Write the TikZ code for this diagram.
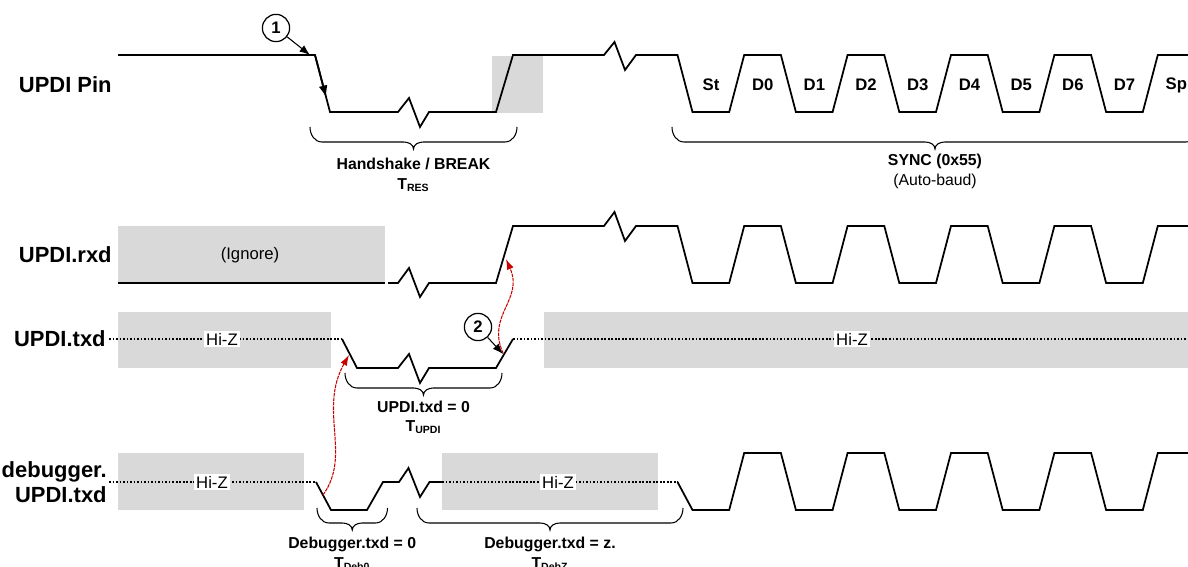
\documentclass[tikz,border=0pt]{standalone}
\usepackage{fontspec}
\setmainfont{Liberation Sans}
\usetikzlibrary{arrows.meta,positioning,calc}
\definecolor{shadegray}{RGB}{217,217,217}
\definecolor{causered}{RGB}{200,0,0}
\tikzset{
  sig/.style      = {line width=1pt,line join=miter},
  hiz/.style      = {line width=1pt,densely dotted},
  shade/.style    = {fill=shadegray},
  rowlabel/.style = {anchor=east,align=right,inner sep=0pt,
                     font=\bfseries\fontsize{12.5}{14}\selectfont},
  bitlabel/.style = {font=\bfseries\fontsize{9.5}{11}\selectfont},
  note/.style     = {font=\fontsize{9.5}{11}\selectfont},
  hizlabel/.style = {note,fill=white,inner sep=1pt},
  brlabel/.style  = {align=center,inner sep=0pt,
                     font=\bfseries\fontsize{9}{11.3}\selectfont},
  brc/.style      = {line width=0.6pt},
  callout/.style  = {circle,draw,line width=0.7pt,minimum size=15.5pt,inner sep=0pt,
                     fill=white,font=\bfseries\fontsize{9.5}{10}\selectfont},
  pointer/.style  = {-{Latex[length=6pt,width=4.5pt]},line width=0.6pt},
  cause/.style    = {-{Latex[length=6pt,width=4pt]},causered,line width=0.6pt,
                     dash pattern=on 2pt off 0.5pt},
}
\newcommand{\timebrace}[4]{%
  \pgfmathsetmacro{\bxm}{(#2+#3)/2}
  \draw[brc] (#2,#4) to[out=-90,in=180] (#2+12,#4+15) -- (\bxm-10,#4+15)
    to[out=0,in=90] (\bxm,#4+22) to[out=90,in=180] (\bxm+10,#4+15)
    -- (#3-12,#4+15) to[out=0,in=-90] (#3,#4);
  \coordinate (#1) at (\bxm,#4+22);}

\begin{document}
\begin{tikzpicture}[x=0.02cm,y=-0.02cm]
  \useasboundingbox (0,0) rectangle (1188,567);

  % shaded regions
  \fill[shade] (492,56) rectangle (543,113);
  \fill[shade] (118,226) rectangle (385,283);
  \fill[shade] (118,312) rectangle (331,368);
  \fill[shade] (544,312) rectangle (1200,368);
  \fill[shade] (118,453) rectangle (303.5,510);
  \fill[shade] (442,453) rectangle (657.6,510);

  \node[rowlabel] (pin) at (112,85) {UPDI Pin};
  \node[rowlabel] (rxd) at (112,255) {UPDI.rxd};
  \node[rowlabel] (txd) at (106,339) {UPDI.txd};
  \node[rowlabel] (dbg) at (107,482) {debugger.\\UPDI.txd};

  % UPDI Pin
  \draw[sig] (118,55) -- (315,55) -- (330,112) -- (398,112) -- (409,98) -- (420,127)
    -- (429,112) -- (496,112) -- (513,55) -- (604,55) -- (614.5,42) -- (625,70)
    -- (636,55) -- (677.5,55)
    \foreach \k in {0,...,4}{ -- ++(15,57) -- ++(36.7,0) -- ++(15,-57) -- ++(36.7,0)};
  \coordinate (fa) at (315,55);
  \coordinate (fb) at (330,112);
  \draw[sig,-{Latex[length=7pt,width=5pt]}] (fa) -- ($(fa)!0.75!(fb)$);
  \foreach \b [count=\i from 0] in {St,D0,D1,D2,D3,D4,D5,D6,D7,Sp}
    \node[bitlabel] (bit\i) at (711+51.7*\i,85) {\b};

  % UPDI.rxd
  \node[note] (ignore) at (250,255) {(Ignore)};
  \draw[sig] (118,283) -- (385,283);
  \draw[sig] (388,283) -- (398,283) -- (409,268) -- (420,297) -- (429,283) -- (496,283)
    -- (513,226) -- (604,226) -- (614.5,212) -- (625,241) -- (636,226) -- (677.5,226)
    \foreach \k in {0,...,4}{ -- ++(15,57) -- ++(36.7,0) -- ++(15,-57) -- ++(36.7,0)};

  % UPDI.txd
  \draw[hiz] (109,339) -- (342,339);
  \draw[sig] (342,339) -- (357,368) -- (398,368) -- (409,354) -- (420,383) -- (429,368)
    -- (496,368) -- (513,339);
  \draw[hiz] (513,339) -- (1200,339);
  \node[hizlabel] (hiz1) at (222,339) {Hi-Z};
  \node[hizlabel] (hiz2) at (852,339) {Hi-Z};

  % debugger.UPDI.txd
  \draw[hiz] (109,482) -- (316,482);
  \draw[sig] (316,482) -- (331,510) -- (367,510) -- (383,482) -- (399,482) -- (408.5,468)
    -- (420,497) -- (429.5,482) -- (442,482);
  \draw[hiz] (442,482) -- (677.5,482);
  \draw[sig] (677.5,482) -- (692.5,510) -- (729.2,510)
    \foreach \k in {1,...,5}{ -- ++(15,-57) -- ++(36.7,0) -- ++(15,57) -- ++(36.7,0)};
  \node[hizlabel] (hiz3) at (212,482) {Hi-Z};
  \node[hizlabel] (hiz4) at (558,482) {Hi-Z};

  % braces
  \timebrace{hs}{310}{517}{127}
  \node[brlabel,below=5pt of hs] (hslbl) {Handshake / BREAK\\T\textsubscript{RES}};
  \timebrace{sync}{672}{1198}{127}
  \node[brlabel,below=2.5pt of sync] (synclbl) {SYNC (0x55)\\{\mdseries (Auto-baud)}};
  \timebrace{tupdi}{345}{502}{373}
  \node[brlabel,below=3pt of tupdi] (tupdilbl) {UPDI.txd = 0\\T\textsubscript{UPDI}};
  \timebrace{deb0}{317}{387.5}{508}
  \node[brlabel,below=4pt of deb0] (deb0lbl) {Debugger.txd = 0\\T\textsubscript{Deb0}};
  \timebrace{debz}{417}{683}{508}
  \node[brlabel,below=4pt of debz] (debzlbl) {Debugger.txd = z.\\T\textsubscript{DebZ}};

  % callouts
  \node[callout] (one) at (276,28) {1};
  \coordinate (oneend) at (310,55);
  \draw[pointer] (one) -- (oneend);
  \node[callout] (two) at (478,327) {2};
  \coordinate (twoend) at (503,354);
  \draw[pointer] (two) -- (twoend);

  % cause arrows
  \coordinate (dbgfall) at (323,495);
  \coordinate (txdfall) at (349,355);
  \draw[cause] (dbgfall) .. controls (352,455) and (318,410) .. (txdfall);
  \coordinate (txdrise) at (503,353);
  \coordinate (rxdrise) at (506,259);
  \draw[cause] (txdrise) .. controls (486,315) and (524,300) .. (rxdrise);
\end{tikzpicture}
\end{document}
